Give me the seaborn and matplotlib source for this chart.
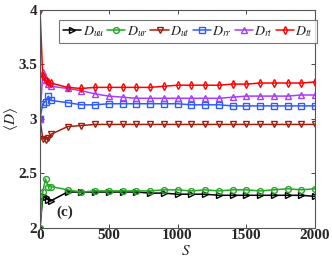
import numpy as np
import pandas as pd
import seaborn as sns
import matplotlib
matplotlib.use("Agg")
import matplotlib.pyplot as plt

### data
S = [0, 20, 40, 60, 80, 200, 300, 400, 500, 600, 700, 800, 900, 1000,
     1100, 1200, 1300, 1400, 1500, 1600, 1700, 1800, 1900, 2000]

D_uu = [2.00, 2.29, 2.28, 2.26, 2.25, 2.33, 2.33, 2.33, 2.33, 2.33, 2.33, 2.32,
        2.32, 2.31, 2.31, 2.31, 2.30, 2.30, 2.30, 2.30, 2.30, 2.30, 2.30, 2.29]
D_ur = [2.00, 2.33, 2.45, 2.38, 2.38, 2.35, 2.33, 2.34, 2.34, 2.34, 2.34, 2.34,
        2.35, 2.35, 2.34, 2.35, 2.34, 2.35, 2.35, 2.34, 2.35, 2.36, 2.35, 2.36]
D_ut = [3.00, 2.82, 2.81, 2.83, 2.86, 2.93, 2.94, 2.95, 2.95, 2.95, 2.95, 2.95,
        2.95, 2.95, 2.95, 2.95, 2.95, 2.95, 2.95, 2.95, 2.95, 2.95, 2.95, 2.95]
D_rr = [3.00, 3.14, 3.16, 3.21, 3.17, 3.15, 3.13, 3.13, 3.14, 3.14, 3.14, 3.14,
        3.14, 3.14, 3.13, 3.13, 3.13, 3.12, 3.12, 3.12, 3.12, 3.12, 3.12, 3.12]
D_rt = [3.00, 3.43, 3.36, 3.32, 3.30, 3.28, 3.26, 3.23, 3.21, 3.20, 3.19, 3.19,
        3.19, 3.19, 3.19, 3.19, 3.19, 3.20, 3.21, 3.21, 3.21, 3.21, 3.22, 3.22]
D_tt = [4.00, 3.39, 3.36, 3.34, 3.33, 3.29, 3.28, 3.29, 3.29, 3.29, 3.29, 3.29,
        3.30, 3.31, 3.31, 3.31, 3.31, 3.32, 3.32, 3.33, 3.33, 3.33, 3.33, 3.34]

labels = [r"$D_{uu}$", r"$D_{ur}$", r"$D_{ut}$", r"$D_{rr}$", r"$D_{rt}$", r"$D_{tt}$"]
series = [D_uu, D_ur, D_ut, D_rr, D_rt, D_tt]
colors = ["#000000", "#22a822", "#a02010", "#2f5cff", "#a83cff", "#ff0000"]
markers = [">", "o", "v", "s", "^", "d"]

sns.set_style("ticks")
plt.rcParams["font.family"] = ["Liberation Serif", "DejaVu Serif"]
plt.rcParams["mathtext.fontset"] = "stix"
plt.rcParams["xtick.direction"] = "in"
plt.rcParams["ytick.direction"] = "in"

fig = plt.figure(figsize=(3.32, 2.58), dpi=100)
ax = fig.add_axes([0.1205, 0.1163, 0.8285, 0.845])

for vals, lab, c, m in zip(series, labels, colors, markers):
    sns.lineplot(x=S, y=vals, ax=ax, color=c, marker=m, markersize=4.2,
                 markerfacecolor="none", markeredgecolor=c, markeredgewidth=1.0,
                 linewidth=1.1, label=lab, sort=False)

ax.set_xlim(0, 2000)
ax.set_ylim(2, 4)
ax.set_xticks([0, 500, 1000, 1500, 2000])
ax.set_yticks([2, 2.5, 3, 3.5, 4])
ax.set_yticklabels(["2", "2.5", "3", "3.5", "4"])
ax.tick_params(top=True, right=True, length=3, width=0.6, labelsize=11)
ax.tick_params(axis="x", pad=1)
ax.tick_params(axis="y", pad=2)
for t in ax.get_xticklabels() + ax.get_yticklabels():
    t.set_fontweight("bold")
for sp in ax.spines.values():
    sp.set_color("#555555")
    sp.set_linewidth(0.8)

ax.set_xlabel(r"$S$", fontsize=11)
ax.xaxis.set_label_coords(0.53, -0.075)
ax.set_ylabel(r"$\langle D\rangle$", fontsize=11, labelpad=-1)
ax.text(182, 2.14, "(c)", fontsize=11, fontweight="bold", ha="center", va="center")

leg = ax.legend(loc="upper left", bbox_to_anchor=(0.07, 0.955), ncol=6,
                fontsize=10, handlelength=1.3, handletextpad=0.1,
                columnspacing=0.2, borderpad=0.3, frameon=True, fancybox=False,
                edgecolor="#555555", borderaxespad=0)
leg.get_frame().set_linewidth(0.8)

fig.savefig("out.png", dpi=100)
